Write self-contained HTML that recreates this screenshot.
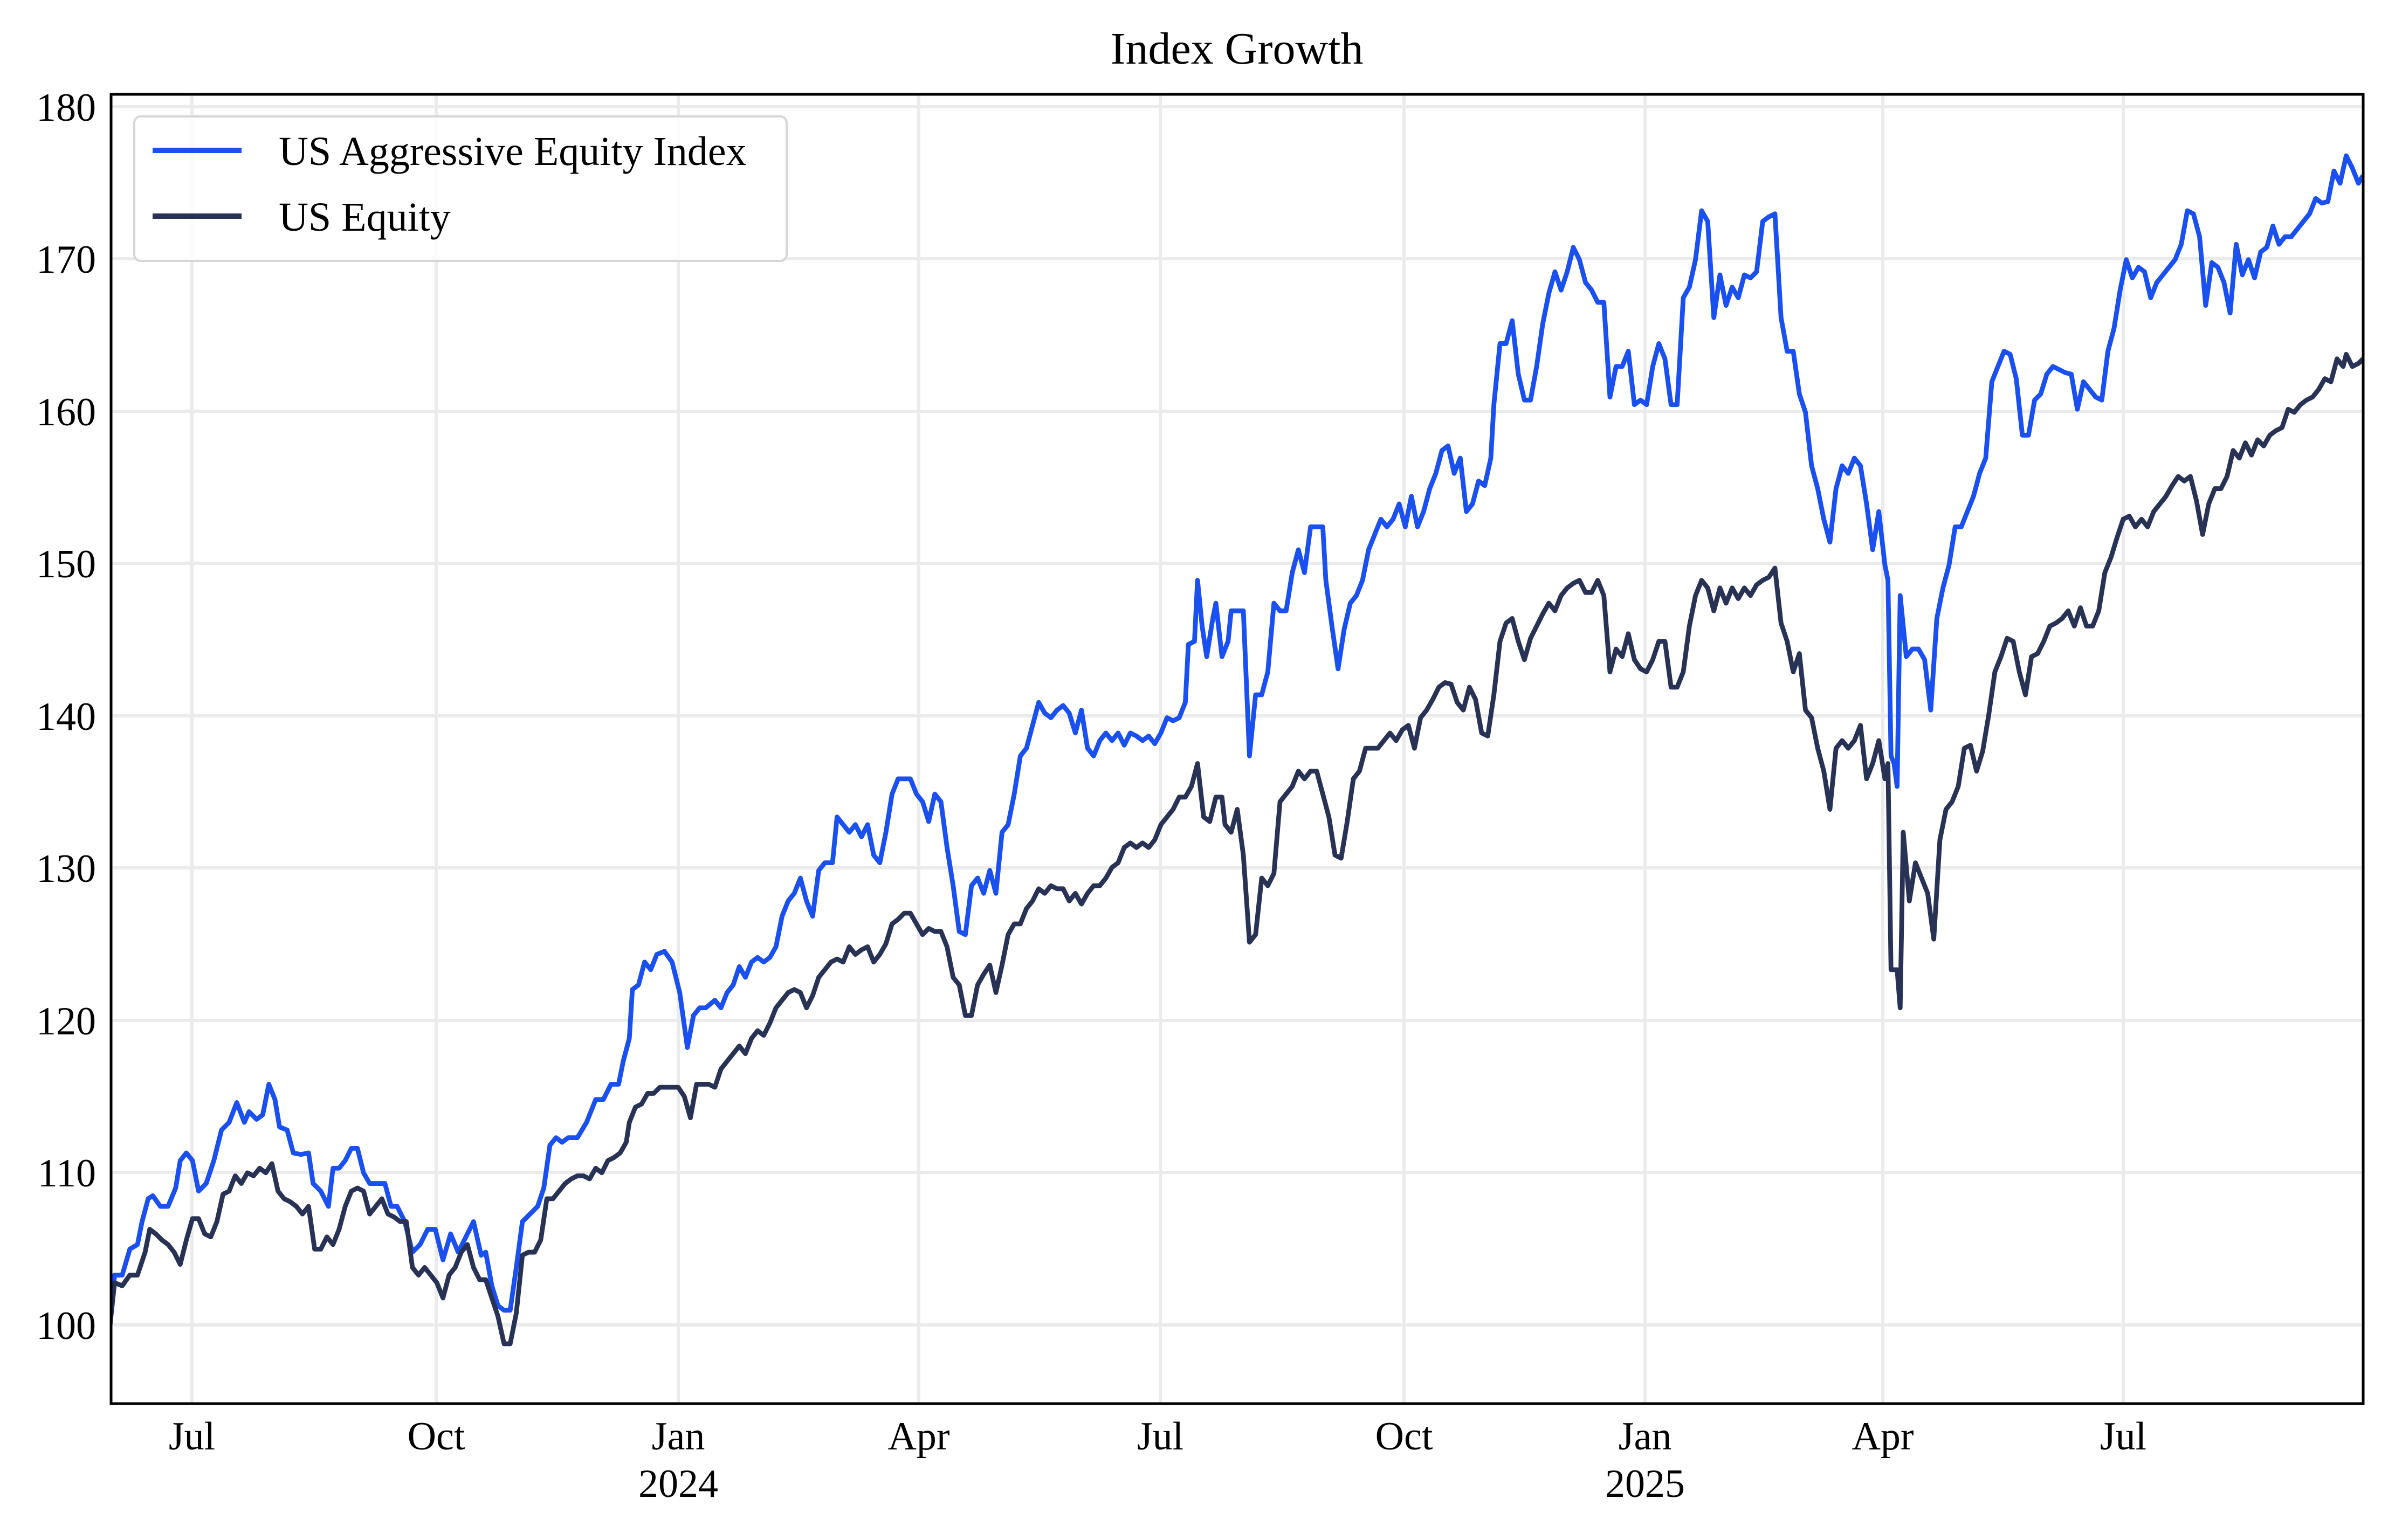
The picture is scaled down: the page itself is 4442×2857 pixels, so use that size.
<!DOCTYPE html>
<html><head><meta charset="utf-8"><style>
html,body{margin:0;padding:0;background:#fff;}
svg{display:block;}
text{font-family:"Liberation Serif",serif;fill:#000;}
</style></head><body>
<svg width="4442" height="2857" viewBox="0 0 4442 2857" xmlns="http://www.w3.org/2000/svg">
<rect width="4442" height="2857" fill="#fff"/>
<text x="2294" y="118" font-size="84" text-anchor="middle">Index Growth</text>
<g stroke="#ebebeb" stroke-width="6">
<line x1="206" x2="4383" y1="198" y2="198"/><line x1="206" x2="4383" y1="480" y2="480"/>
<line x1="206" x2="4383" y1="763" y2="763"/><line x1="206" x2="4383" y1="1045" y2="1045"/>
<line x1="206" x2="4383" y1="1328" y2="1328"/><line x1="206" x2="4383" y1="1610" y2="1610"/>
<line x1="206" x2="4383" y1="1893" y2="1893"/><line x1="206" x2="4383" y1="2175" y2="2175"/>
<line x1="206" x2="4383" y1="2458" y2="2458"/>
<line x1="356" x2="356" y1="175" y2="2604"/><line x1="809" x2="809" y1="175" y2="2604"/>
<line x1="1258" x2="1258" y1="175" y2="2604"/><line x1="1704" x2="1704" y1="175" y2="2604"/>
<line x1="2152" x2="2152" y1="175" y2="2604"/><line x1="2604" x2="2604" y1="175" y2="2604"/>
<line x1="3051" x2="3051" y1="175" y2="2604"/><line x1="3492" x2="3492" y1="175" y2="2604"/>
<line x1="3938" x2="3938" y1="175" y2="2604"/>
</g>
<defs><clipPath id="c"><rect x="206" y="175" width="4177" height="2429"/></clipPath></defs>
<g clip-path="url(#c)"><g transform="scale(2.833)" fill="none" stroke-width="3.1" stroke-linejoin="round">
<polyline stroke="#1a4ff0" points="72,868 75,835 80,835 85,818 90,815 93,800 97,785 100,783 105,790 110,790 115,778 118,760 122,755 126,760 130,780 135,775 140,760 145,740 150,735 155,722 160,735 163,728 168,733 172,730 176,710 180,720 183,738 188,740 192,755 197,756 202,755 205,775 210,780 215,790 218,765 222,765 226,760 230,752 234,752 238,768 242,775 248,775 252,775 256,790 260,790 265,800 270,820 275,815 280,805 285,805 290,825 295,808 300,820 305,810 310,800 315,822 318,820 322,842 326,855 330,858 334,858 338,830 342,800 347,795 352,790 356,778 360,750 364,745 368,748 372,745 378,745 384,735 390,720 395,720 400,710 405,710 408,695 412,680 414,648 418,645 422,630 426,635 430,625 435,623 440,630 445,650 450,686 454,665 458,660 462,660 468,655 472,660 476,650 480,645 484,633 488,640 492,630 496,627 500,630 504,627 508,620 512,600 516,590 520,585 524,575 528,590 532,600 536,570 540,565 545,565 548,535 552,540 556,545 560,540 564,548 568,540 572,560 576,565 580,545 584,520 588,510 592,510 596,510 600,520 604,525 608,538 612,520 616,525 620,555 624,580 628,610 632,612 636,580 640,575 644,585 648,570 652,585 656,545 660,540 664,520 668,495 672,490 676,475 680,460 684,467 688,470 692,465 696,462 700,467 704,480 708,465 712,490 716,495 720,485 724,480 728,485 732,480 736,488 740,480 744,482 748,485 752,482 756,487 760,480 764,470 768,472 772,470 776,460 778,422 782,420 784,380 787,410 790,430 794,405 796,395 800,430 804,420 806,400 810,400 814,400 818,495 822,455 826,455 830,440 834,395 838,400 842,400 846,375 850,360 854,375 858,345 862,345 866,345 868,380 872,410 876,438 880,412 884,395 888,390 892,380 896,360 900,350 904,340 908,345 912,340 916,330 920,345 924,325 928,345 932,335 936,320 940,310 944,295 948,292 952,310 956,300 960,335 964,330 968,315 972,318 976,300 978,265 982,225 986,225 990,210 994,245 998,262 1002,262 1006,240 1010,212 1014,192 1018,178 1022,190 1026,178 1030,162 1034,170 1038,185 1042,190 1046,198 1050,198 1054,260 1058,240 1062,240 1066,230 1070,265 1074,262 1078,265 1082,240 1086,225 1090,235 1094,265 1098,265 1102,195 1106,188 1110,170 1114,138 1118,145 1122,208 1126,180 1130,200 1134,188 1138,195 1142,180 1146,182 1150,178 1154,145 1158,142 1162,140 1166,208 1170,230 1174,230 1178,258 1182,270 1186,305 1190,320 1194,340 1198,355 1202,320 1206,305 1210,310 1214,300 1218,305 1222,330 1226,360 1230,335 1234,370 1236,380 1238,495 1240,500 1242,515 1244,390 1248,430 1252,425 1256,425 1260,432 1264,465 1268,405 1272,385 1276,370 1280,345 1284,345 1288,335 1292,325 1296,310 1300,300 1304,250 1308,240 1312,230 1316,232 1320,248 1324,285 1328,285 1332,262 1336,258 1340,245 1344,240 1348,242 1352,244 1356,245 1360,268 1364,250 1368,255 1372,260 1376,262 1380,230 1384,215 1388,190 1392,170 1396,182 1400,175 1404,178 1408,195 1412,185 1416,180 1420,175 1424,170 1428,160 1432,138 1436,140 1440,155 1444,200 1448,172 1452,175 1456,185 1460,205 1464,160 1468,180 1472,170 1476,182 1480,165 1484,162 1488,148 1492,160 1496,155 1500,155 1504,150 1508,145 1512,140 1516,130 1520,133 1524,132 1528,112 1532,120 1536,102 1540,110 1544,120 1547,115"/>
<polyline stroke="#283255" points="72,868 75,840 80,842 85,835 90,835 95,820 98,805 102,808 106,812 110,815 114,820 118,828 122,812 126,798 130,798 134,808 138,810 142,800 146,782 150,780 154,770 158,775 162,768 166,770 170,765 174,768 178,762 182,780 186,785 190,787 194,790 198,795 202,790 206,818 210,818 214,810 218,815 222,805 226,790 230,780 234,778 238,780 242,795 246,790 250,785 254,795 258,797 262,800 266,800 270,830 274,835 278,830 282,835 286,840 290,850 294,835 298,830 302,820 306,815 310,830 314,838 318,838 322,850 326,862 330,880 334,880 338,860 342,822 346,820 350,820 354,812 358,785 362,785 366,780 370,775 374,772 378,770 382,770 386,772 390,765 394,768 398,760 402,758 406,755 410,748 412,735 416,725 420,723 424,716 428,716 432,712 436,712 440,712 444,712 448,718 452,732 456,710 460,710 464,710 468,712 472,700 476,695 480,690 484,685 488,690 492,680 496,675 500,678 504,670 508,660 512,655 516,650 520,648 524,650 528,660 532,652 536,640 540,635 544,630 548,628 552,630 556,620 560,625 564,622 568,620 572,630 576,625 580,618 584,605 588,602 592,598 596,598 600,605 604,612 608,608 612,610 616,610 620,620 624,640 628,645 632,665 636,665 640,645 644,638 648,632 652,650 656,632 660,612 664,605 668,605 672,595 676,590 680,582 684,585 688,580 692,582 696,582 700,590 704,585 708,592 712,585 716,580 720,580 724,575 728,568 732,565 736,555 740,552 744,555 748,552 752,555 756,550 760,540 764,535 768,530 772,522 776,522 780,515 784,500 788,535 792,538 796,522 800,522 802,540 806,545 810,530 814,560 818,617 822,612 826,575 830,580 834,572 838,525 842,520 846,515 850,505 854,510 858,505 862,505 866,520 870,535 874,560 878,562 882,538 886,510 890,505 894,490 898,490 902,490 906,485 910,480 914,485 918,478 922,475 926,490 930,470 934,465 938,458 942,450 946,447 950,448 954,460 958,465 962,450 966,458 970,480 974,482 978,455 982,420 986,408 990,405 994,420 998,432 1002,418 1006,410 1010,402 1014,395 1018,400 1022,390 1026,385 1030,382 1034,380 1038,388 1042,388 1046,380 1050,390 1054,440 1058,425 1062,430 1066,415 1070,432 1074,438 1078,440 1082,432 1086,420 1090,420 1094,450 1098,450 1102,440 1106,410 1110,390 1114,380 1118,385 1122,400 1126,385 1130,395 1134,385 1138,392 1142,385 1146,390 1150,383 1154,380 1158,378 1162,372 1166,408 1170,420 1174,440 1178,428 1182,465 1186,470 1190,490 1194,505 1198,530 1202,490 1206,485 1210,490 1214,485 1218,475 1222,510 1226,500 1230,485 1234,510 1236,500 1238,635 1242,635 1244,660 1246,545 1250,590 1254,565 1258,575 1262,585 1266,615 1270,550 1274,530 1278,525 1282,515 1286,490 1290,488 1294,505 1298,492 1302,468 1306,440 1310,430 1314,418 1318,420 1322,440 1326,455 1330,430 1334,428 1338,420 1342,410 1346,408 1350,405 1354,400 1358,410 1362,398 1366,410 1370,410 1374,400 1378,375 1382,365 1386,352 1390,340 1394,338 1398,345 1402,340 1406,345 1410,335 1414,330 1418,325 1422,318 1426,312 1430,315 1434,312 1438,328 1442,350 1446,330 1450,320 1454,320 1458,312 1462,295 1466,300 1470,290 1474,298 1478,288 1482,292 1486,285 1490,282 1494,280 1498,268 1502,270 1506,265 1510,262 1514,260 1518,255 1522,248 1526,250 1530,235 1534,240 1536,232 1540,240 1544,238 1547,235"/>
</g></g>
<rect x="206" y="175" width="4177" height="2429" fill="none" stroke="#000" stroke-width="5"/>
<rect x="249" y="216" width="1210" height="268" rx="12" fill="#fff" fill-opacity="0.85" stroke="#d6d6d6" stroke-width="4"/>
<line x1="283" x2="448" y1="279" y2="279" stroke="#1a4ff0" stroke-width="10"/>
<line x1="283" x2="448" y1="401" y2="401" stroke="#283255" stroke-width="10"/>
<text x="517" y="306" font-size="76">US Aggressive Equity Index</text>
<text x="517" y="428" font-size="76">US Equity</text>
<g font-size="74" text-anchor="end">
<text x="178" y="224">180</text><text x="178" y="506">170</text><text x="178" y="789">160</text>
<text x="178" y="1071">150</text><text x="178" y="1354">140</text><text x="178" y="1636">130</text>
<text x="178" y="1919">120</text><text x="178" y="2201">110</text><text x="178" y="2484">100</text>
</g>
<g font-size="74" text-anchor="middle">
<text x="356" y="2689">Jul</text><text x="809" y="2689">Oct</text><text x="1258" y="2689">Jan</text>
<text x="1258" y="2777">2024</text><text x="1704" y="2689">Apr</text><text x="2152" y="2689">Jul</text>
<text x="2604" y="2689">Oct</text><text x="3051" y="2689">Jan</text><text x="3051" y="2777">2025</text>
<text x="3492" y="2689">Apr</text><text x="3938" y="2689">Jul</text>
</g>
</svg>
</body></html>
